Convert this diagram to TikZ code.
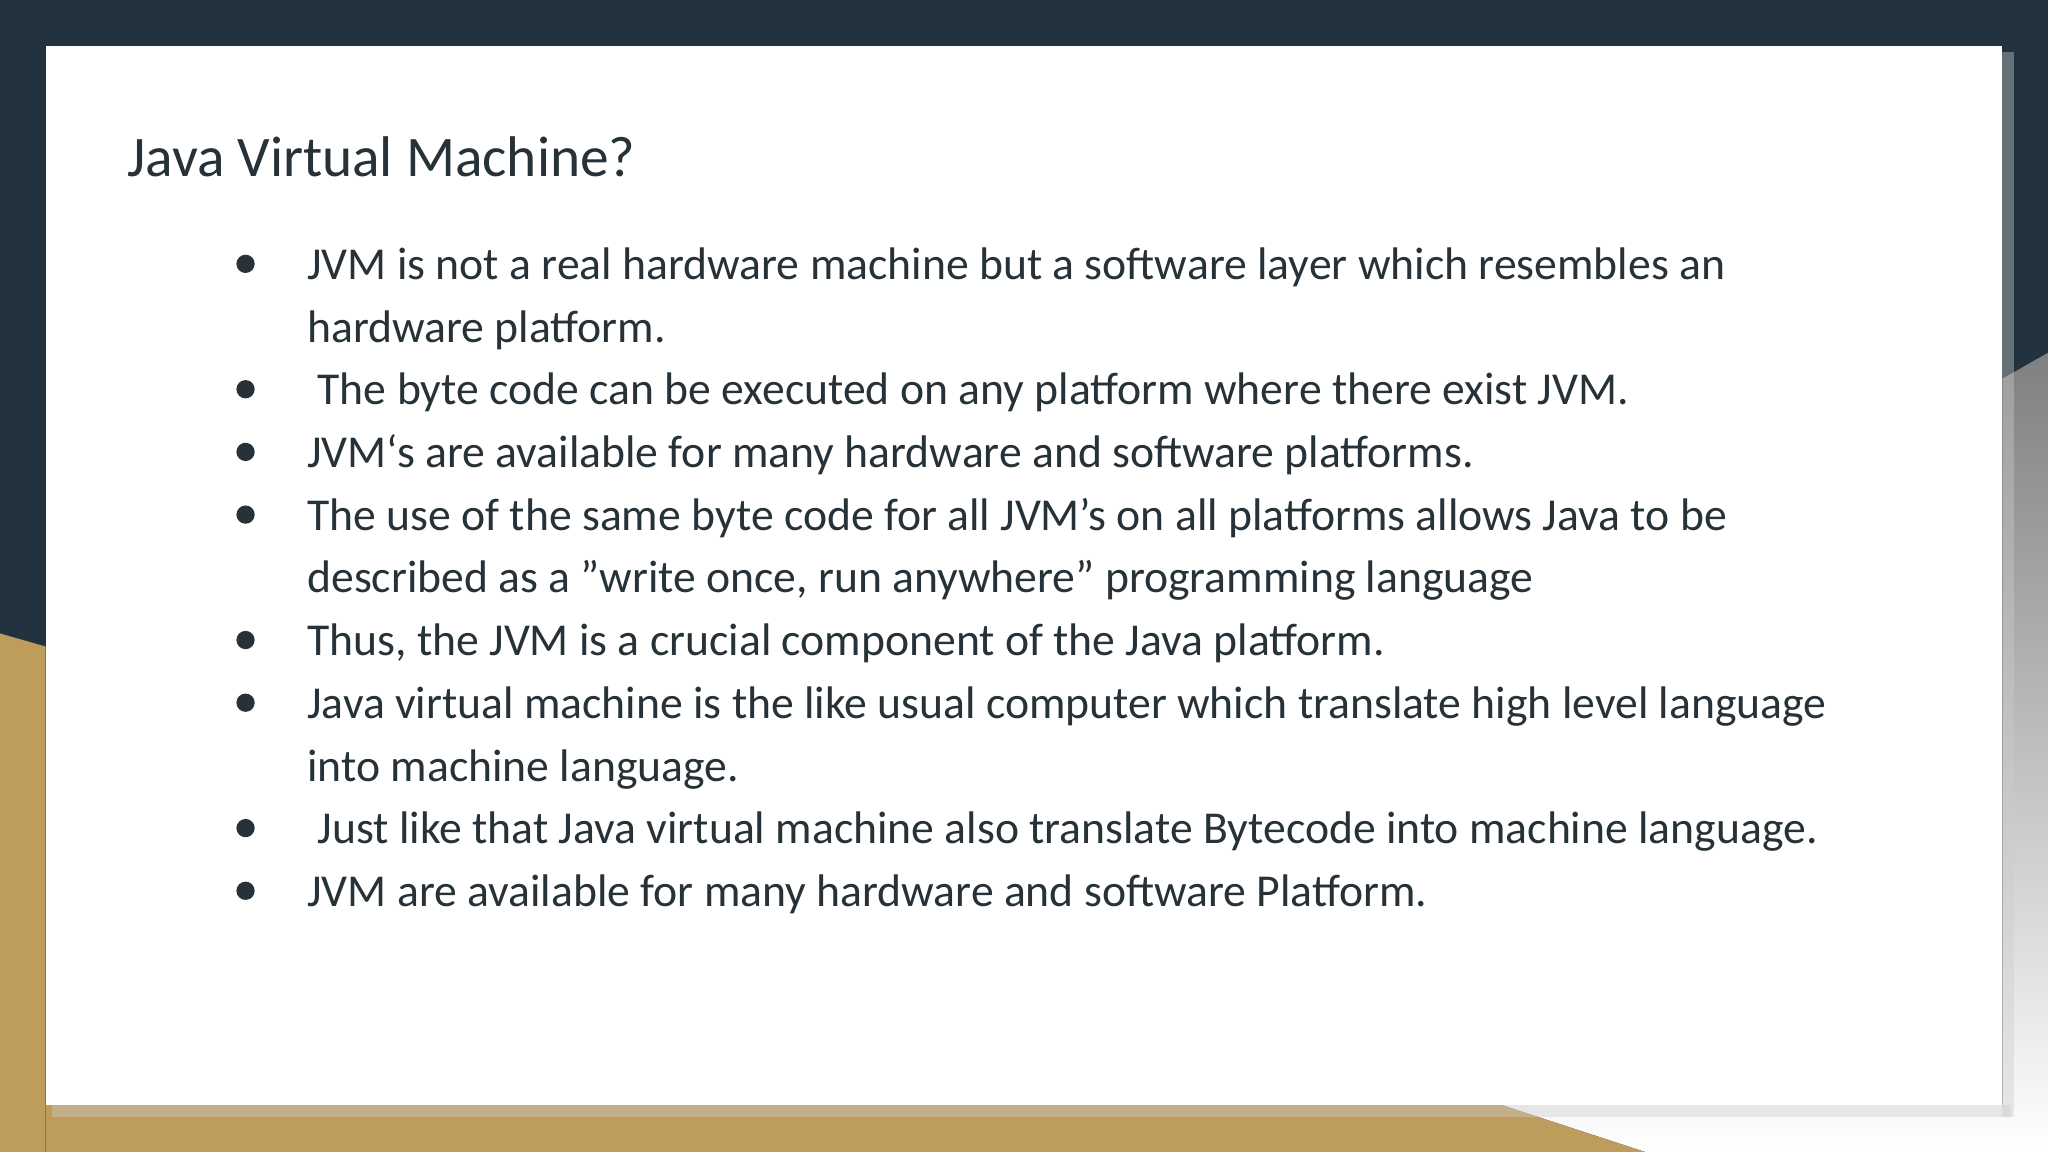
\documentclass[tikz,border=0pt]{standalone}
\usepackage{fontspec}
\setmainfont[Ligatures={ResetAll}]{Carlito}
\definecolor{navy}{HTML}{22333F}
\definecolor{gold}{HTML}{BE9C5C}
\definecolor{ink}{HTML}{263238}
\definecolor{shade}{HTML}{C8C8CA}
\tikzset{txt/.style={anchor=base west,inner sep=0pt,text=ink,font=\fontsize{19.9}{23}\selectfont},
 dot/.style={circle,fill=ink,inner sep=0pt,minimum size=0.28cm}}
\begin{document}
\begin{tikzpicture}[x=0.02cm,y=-0.02cm]
\useasboundingbox (0,0) rectangle (1568,882);
\fill[navy] (0,0) rectangle (1568,882);
\fill[gold] (0,485) -- (35,495) -- (35,882) -- (0,882) -- cycle;
\fill[gold] (35,846) -- (1260,846) -- (1260,882) -- (35,882) -- cycle;
\fill[shade] (1533,290) -- (1568,270) -- (1568,882) -- (1260,882) -- (1150,846) -- (1533,846) -- cycle;
\fill[black!20,opacity=0.4] (40,846) rectangle (1540,855);
\fill[black!20,opacity=0.4] (1533,40) rectangle (1542,855);
\fill[white] (35,35) rectangle (1533,846);
\node[anchor=base west,inner sep=0pt,text=ink,font=\fontsize{25}{29}\selectfont] (title) at (97,135) {Java Virtual Machine?};
\foreach \i/\y in {1/202,2/298,3/346,4/394,5/490,6/538,7/634,8/682} \node[dot] (b\i) at (188,\y) {};
\node[txt] (l1) at (235,214) {JVM is not a real hardware machine but a software layer which resembles an};
\node[txt] (l1b) at (235,262) {hardware platform.};
\node[txt] (l2) at (235,310) {\ The byte code can be executed on any platform where there exist JVM.};
\node[txt] (l3) at (235,358) {JVM‘s are available for many hardware and software platforms.};
\node[txt] (l4) at (235,406) {The use of the same byte code for all JVM’s on all platforms allows Java to be};
\node[txt] (l4b) at (235,454) {described as a "write once, run anywhere" programming language};
\node[txt] (l5) at (235,502) {Thus, the JVM is a crucial component of the Java platform.};
\node[txt] (l6) at (235,550) {Java virtual machine is the like usual computer which translate high level language};
\node[txt] (l6b) at (235,598) {into machine language.};
\node[txt] (l7) at (235,646) {\ Just like that Java virtual machine also translate Bytecode into machine language.};
\node[txt] (l8) at (235,694) {JVM are available for many hardware and software Platform.};
\end{tikzpicture}
\end{document}
